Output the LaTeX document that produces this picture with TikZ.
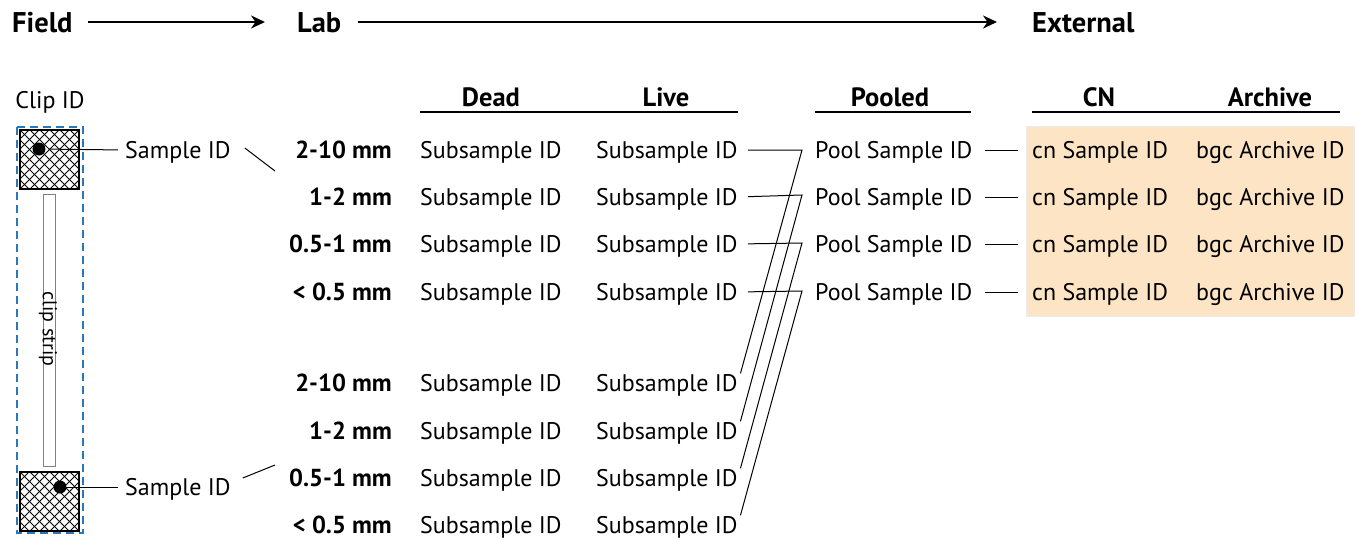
\documentclass[tikz,border=0pt]{standalone}
\usepackage{fontspec}
\setmainfont{PT Sans}
\usetikzlibrary{arrows.meta}
\definecolor{clipblue}{RGB}{40,120,190}
\definecolor{extorange}{RGB}{252,228,196}
\begin{document}
\begin{tikzpicture}[x=1pt,y=-1pt,
  txt/.style={inner sep=0pt, text height=16.8pt, text depth=0pt, font=\fontsize{24}{24}\selectfont},
  bld/.style={inner sep=0pt, text height=17.2pt, text depth=0pt, font=\fontsize{24.6}{24.6}\selectfont\bfseries},
  hdr/.style={inner sep=0pt, text height=18.5pt, text depth=0pt, font=\fontsize{26.5}{26.5}\selectfont\bfseries},
  phs/.style={inner sep=0pt, text height=20pt, text depth=0pt, font=\fontsize{28.5}{28.5}\selectfont\bfseries},
  conn/.style={line width=1pt, black},
  uline/.style={line width=1.6pt},
  phase/.style={line width=2.8pt, -{Stealth[length=14pt,width=13pt]}},
  hatchbox/.style={line width=2pt},
]
\useasboundingbox (0,0) rectangle (1358,539);

% phase headings
\node[phs, anchor=west] (field) at (12,22) {Field};
\node[phs, anchor=west] (lab) at (297,22) {Lab};
\node[phs, anchor=west] (ext) at (1032,22) {External};
\draw[phase, shorten <=15pt, shorten >=32pt] (field.east) -- (lab.west);
\draw[phase, shorten <=17pt, shorten >=35pt] (lab.east) -- (ext.west);

% clip
\node[txt, anchor=center] (clipid) at (50,100) {Clip ID};
\draw[clipblue, line width=1.5pt, dash pattern=on 8pt off 5pt] (17,127) rectangle (83,533);
\node[draw=black!50, line width=0.8pt, minimum width=12pt, minimum height=272pt, inner sep=0pt] (strip) at (49,330) {};
\node[rotate=-90, inner sep=0pt, font=\fontsize{20}{20}\selectfont] (striplabel) at (48,329) {clip strip};

\foreach \yy/\nm in {130/sqA, 472/sqB}{
  \begin{scope}
    \clip (20,\yy) rectangle (79,\yy+59);
    \foreach \c in {-70,-60,...,70}{
      \draw[line width=0.8pt] (20+\c,\yy) -- ++(59,59);
      \draw[line width=0.8pt] (79+\c,\yy) -- ++(-59,59);
    }
  \end{scope}
  \draw[hatchbox] (20,\yy) rectangle (79,\yy+59);
}
\node[circle, fill=black, minimum size=13pt, inner sep=0pt] (dotA) at (39,149) {};
\node[circle, fill=black, minimum size=13pt, inner sep=0pt] (dotB) at (60,487) {};

\node[txt, anchor=west] (sidA) at (125,150) {Sample ID};
\node[txt, anchor=west] (sidB) at (125,487) {Sample ID};
\draw[conn, shorten <=10pt, shorten >=7pt] (dotA.center) -- (sidA.west);
\draw[conn, shorten >=7pt] (dotB.center) -- (sidB.west);
\coordinate (slA) at (275,171);
\coordinate (slB) at (275,465);
\draw[conn] ([xshift=14pt,yshift=2pt]sidA.east) -- (slA);
\draw[conn] ([xshift=12pt,yshift=9pt]sidB.east) -- (slB);

% lab headers
\node[hdr] (dead) at (491,97) {Dead};
\node[hdr] (live) at (666,97) {Live};
\draw[uline] (420,112) -- (738,112);
\node[hdr] (pooled) at (890,97) {Pooled};
\draw[uline] (815,112) -- (971,112);
\node[hdr] (cnh) at (1099,97) {CN};
\node[hdr] (arch) at (1270,97) {Archive};
\draw[uline] (1032,112) -- (1340,112);

% external box
\fill[extorange] (1026,126) rectangle (1354,316);
\draw[black!8, line width=0.6pt] (1026,126) rectangle (1354,316);

% size rows
\foreach \i/\yy/\lab in {1/150/2-10 mm, 2/197/1-2 mm, 3/244/0.5-1 mm, 4/292/< 0.5 mm}{
  \node[bld, anchor=east] (szA\i) at (392,\yy) {\lab};
  \node[txt, anchor=west] (deadA\i) at (420,\yy) {Subsample ID};
  \node[txt, anchor=west] (liveA\i) at (596,\yy) {Subsample ID};
  \node[txt, anchor=west] (pool\i) at (815,\yy) {Pool Sample ID};
  \node[txt, anchor=west] (cn\i) at (1032,\yy) {cn Sample ID};
  \node[txt, anchor=west] (bgc\i) at (1196,\yy) {bgc Archive ID};
  \draw[conn, shorten <=12pt, shorten >=14pt] (pool\i.east) -- (cn\i.west);
}
\foreach \i/\yy/\lab in {1/383/2-10 mm, 2/431/1-2 mm, 3/478/0.5-1 mm, 4/525/< 0.5 mm}{
  \node[bld, anchor=east] (szB\i) at (392,\yy) {\lab};
  \node[txt, anchor=west] (deadB\i) at (420,\yy) {Subsample ID};
  \node[txt, anchor=west] (liveB\i) at (596,\yy) {Subsample ID};
}
% pooling connectors
\foreach \i/\yy in {1/150, 2/195, 3/243, 4/291}{
  \coordinate (v\i) at (802,\yy);
  \draw[conn, shorten <=10pt, shorten >=10pt] (liveA\i.east) -- (v\i) -- (liveB\i.east);
}
\end{tikzpicture}
\end{document}
